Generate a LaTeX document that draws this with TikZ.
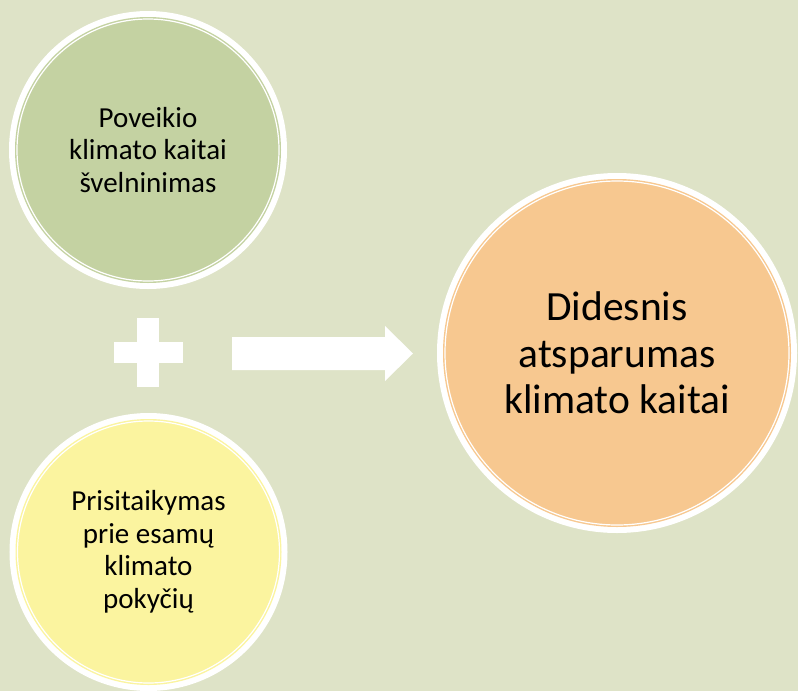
\documentclass[tikz,border=0pt]{standalone}
\usepackage{fontspec}
\setmainfont{Carlito}
\definecolor{bgcol}{RGB}{222,227,199}
\definecolor{greencol}{RGB}{196,210,162}
\definecolor{yellowcol}{RGB}{251,244,159}
\definecolor{orangecol}{RGB}{247,200,144}
\tikzset{
	bubble/.style={circle, inner sep=0pt, align=center, fill=#1, draw=white, line width=1.2pt,
		preaction={draw=white, line width=16pt},
		preaction={draw=#1, line width=4pt}},
	smalltext/.style={font=\fontsize{29}{32.5}\selectfont},
	bigtext/.style={font=\fontsize{41.5}{46.5}\selectfont}
}

\begin{document}
\begin{tikzpicture}[x=1pt, y=-1pt]
	%%%%% START %%%%%
	
	\fill[bgcol] (0, 0) rectangle (798, 691);
	\useasboundingbox (0, 0) rectangle (798, 691);
	
	\node[bubble=greencol, minimum size=262pt, smalltext] (mitig) at (148, 150)
		{Poveikio\\klimato kaitai\\švelninimas};
	\node[bubble=yellowcol, minimum size=262pt, smalltext] (adapt) at (148.5, 552)
		{Prisitaikymas\\prie esamų\\klimato\\pokyčių};
	\node[bubble=orangecol, minimum size=344pt, bigtext] (resil) at (617, 353)
		{Didesnis\\atsparumas\\klimato kaitai};
	
	% plus sign
	\fill[white] (114, 342) rectangle (183, 363);
	\fill[white] (137, 318) rectangle (159, 387);
	
	% block arrow
	\fill[white] (232, 337) -- (385, 337) -- (385, 326) -- (413, 353.5)
		-- (385, 381) -- (385, 370) -- (232, 370) -- cycle;
	
	%%%%% END %%%%%
\end{tikzpicture}
\end{document}
